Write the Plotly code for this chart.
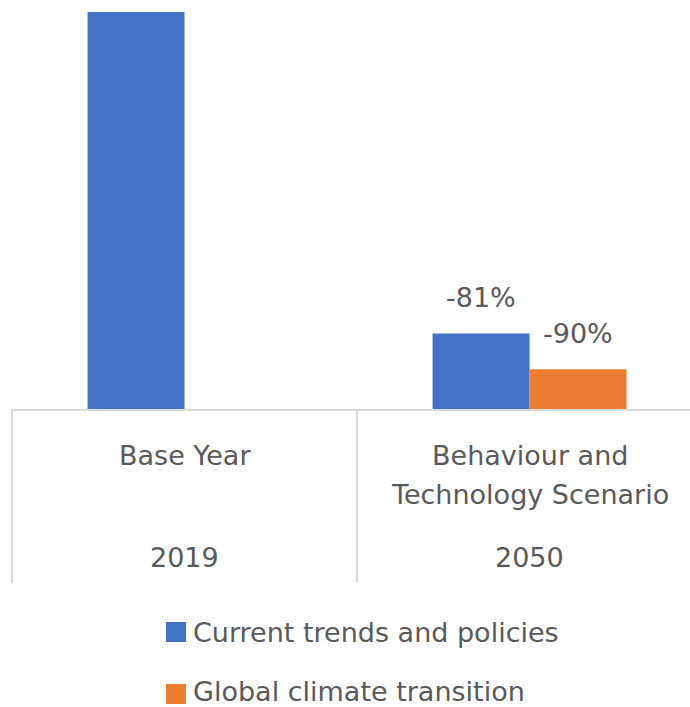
import plotly.graph_objects as go

# ---- data ----
categories = ["Base Year", "Behaviour and<br>Technology Scenario"]
years = ["2019", "2050"]
series_names = ["Current trends and policies", "Global climate transition"]
current_trends = [100, 19]
global_transition = [None, 10]
current_labels = ["", "-81%"]
global_labels = ["", "-90%"]

colors = ["#4472C4", "#ED7D31"]
text_color = "#595959"
grid_color = "#D9D9D9"
FONT = "DejaVu Sans"
FS = 27

W, H = 690, 707
ml, mr, mt, mb = 12, 0, 12, 298
plot_h = H - mt - mb

x_idx = list(range(len(categories)))
xr = [-0.5, 1.465]
bargap = 0.438
bar_w = (1 - bargap) / 2


def xpaper(v):
    return (v - xr[0]) / (xr[1] - xr[0])


def ypaper(pix_below_base):
    return -pix_below_base / plot_h


fig = go.Figure()
fig.add_trace(go.Bar(x=x_idx, y=current_trends, name=series_names[0],
                     marker=dict(color=colors[0], line=dict(width=0)), showlegend=False,
                     hoverinfo="skip"))
fig.add_trace(go.Bar(x=x_idx, y=global_transition, name=series_names[1],
                     marker=dict(color=colors[1], line=dict(width=0)), showlegend=False,
                     hoverinfo="skip"))

annotations = []
# data labels
for vals, labs, off in [(current_trends, current_labels, -bar_w / 2),
                        (global_transition, global_labels, bar_w / 2)]:
    for i, (v, t) in enumerate(zip(vals, labs)):
        if t and v is not None:
            annotations.append(dict(x=i + off, y=v, xref="x", yref="y", text=t,
                                    showarrow=False, yanchor="middle", yshift=36,
                                    font=dict(family=FONT, size=FS, color=text_color)))
# category labels (each line placed separately for Excel-like spacing)
line_gap = 39
for i, (c, yr) in enumerate(zip(categories, years)):
    for j, part in enumerate(c.split("<br>")):
        annotations.append(dict(x=i, y=ypaper(46 + j * line_gap), xref="x", yref="paper",
                                text=part, showarrow=False, yanchor="middle",
                                font=dict(family=FONT, size=FS, color=text_color)))
    annotations.append(dict(x=i, y=ypaper(148), xref="x", yref="paper", text=yr,
                            showarrow=False, yanchor="middle",
                            font=dict(family=FONT, size=FS, color=text_color)))

shapes = []
# separators
for b in [-0.5, 0.5]:
    xp = xpaper(b)
    shapes.append(dict(type="line", xref="paper", yref="paper", x0=xp, x1=xp,
                       y0=0, y1=ypaper(174), line=dict(color=grid_color, width=2)))
# manual legend
leg_x0 = (166 - ml) / (W - ml - mr)
leg_sq = 20
leg_centers = [632, 691]
for k, (name, col) in enumerate(zip(series_names, colors)):
    cy = leg_centers[k]
    y_c = (H - mb - cy) / plot_h
    half = leg_sq / 2 / plot_h
    sq_c = y_c - (3 / plot_h if k else 0)
    shapes.append(dict(type="rect", xref="paper", yref="paper",
                       x0=leg_x0, x1=leg_x0 + leg_sq / (W - ml - mr),
                       y0=sq_c - half, y1=sq_c + half,
                       fillcolor=col, line=dict(width=0)))
    annotations.append(dict(x=(191 - ml) / (W - ml - mr), y=y_c,
                            xref="paper", yref="paper",
                            text=name, showarrow=False, xanchor="left", yanchor="middle",
                            font=dict(family=FONT, size=FS, color=text_color)))

fig.update_layout(
    width=W, height=H,
    margin=dict(l=ml, r=mr, t=mt, b=mb),
    paper_bgcolor="white", plot_bgcolor="white",
    barmode="group", bargap=bargap, bargroupgap=0,
    xaxis=dict(range=xr, showticklabels=False, showgrid=False, zeroline=False,
               showline=True, linecolor=grid_color, linewidth=2, ticks="", fixedrange=True),
    yaxis=dict(range=[0, 100], visible=False, showgrid=False, zeroline=False, fixedrange=True),
    annotations=annotations, shapes=shapes,
    showlegend=False, hovermode=False,
)
fig.write_html("out.html", config={"displayModeBar": False},
               post_script="document.body.style.margin='0';document.body.style.overflow='hidden';")
